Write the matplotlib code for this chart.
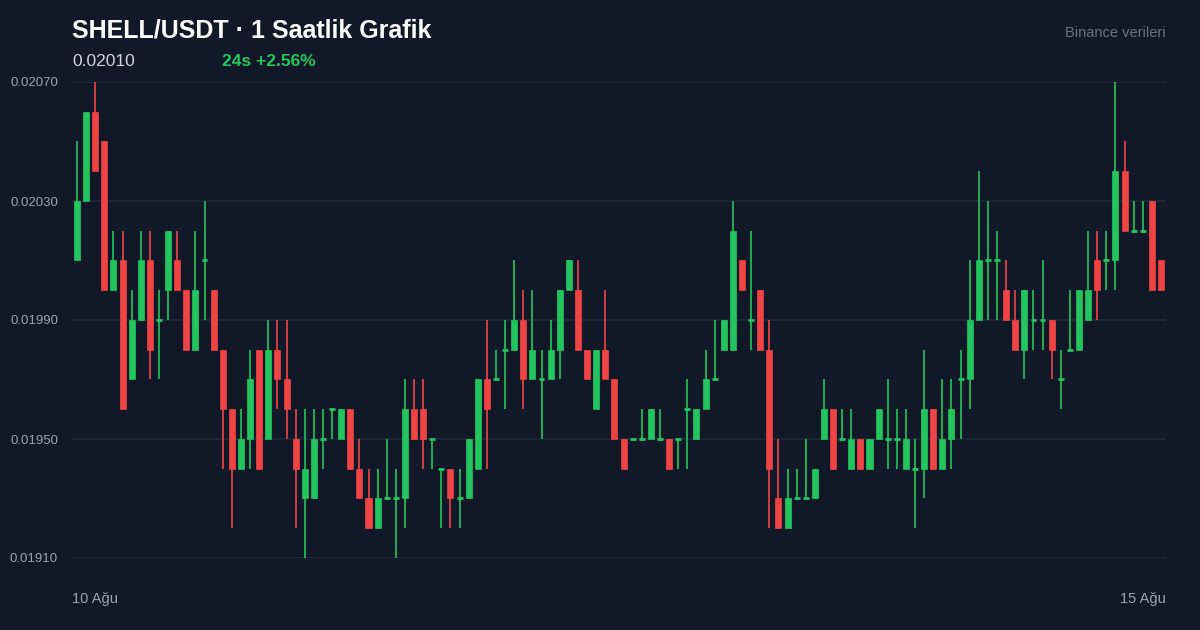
import matplotlib
matplotlib.use("Agg")
import matplotlib.pyplot as plt

plt.rcParams['font.family'] = ['Liberation Sans', 'DejaVu Sans']

# prices in units of 1e-5 USDT, 10 candles per row
opens  = [2010,2030,2060,2050,2000,2010,1970,1990,2010,1990,
          2000,2010,2000,1980,2010,2000,1980,1960,1940,1950,
          1980,1950,1980,1970,1950,1930,1930,1950,1960,1950,
          1960,1940,1930,1920,1930,1930,1930,1960,1960,1950,
          1940,1940,1930,1930,1940,1970,1970,1980,1980,1990,
          1970,1970,1970,1980,2000,2000,1980,1960,1980,1970,
          1950,1950,1950,1950,1950,1950,1950,1960,1950,1960,
          1970,1980,1980,2010,1990,2000,1980,1930,1920,1930,
          1930,1930,1950,1960,1950,1940,1950,1940,1950,1950,
          1950,1940,1940,1940,1960,1940,1950,1970,1970,1990,
          2010,2010,2000,1990,1980,1990,1990,1990,1970,1980,
          1980,1990,2010,2010,2010,2040,2020,2020,2030,2010]
highs  = [2050,2060,2070,2050,2020,2020,2000,2020,2020,2000,
          2020,2020,2000,2020,2030,2000,1980,1960,1960,1980,
          1980,1990,1990,1990,1960,1960,1960,1960,1960,1960,
          1960,1950,1940,1940,1950,1940,1970,1970,1970,1950,
          1940,1940,1940,1950,1970,1990,1980,1990,2010,2000,
          2000,1980,1990,2000,2010,2010,1980,1980,2000,1970,
          1950,1950,1960,1960,1960,1950,1950,1970,1960,1980,
          1990,1990,2030,2010,2020,2000,1990,1950,1940,1940,
          1950,1940,1970,1960,1960,1960,1950,1950,1960,1970,
          1960,1960,1950,1980,1960,1970,1970,1980,2010,2040,
          2030,2020,2010,2000,2000,2000,2010,1990,1980,2000,
          2000,2020,2020,2020,2070,2050,2030,2030,2030,2010]
lows   = [2010,2030,2040,2000,2000,1960,1970,1990,1970,1970,
          1990,2000,1980,1980,1990,1980,1940,1920,1940,1940,
          1940,1950,1960,1950,1920,1910,1930,1940,1950,1950,
          1940,1930,1920,1920,1930,1910,1920,1950,1940,1940,
          1920,1920,1920,1930,1940,1940,1970,1960,1980,1960,
          1970,1950,1970,1970,2000,1980,1970,1960,1970,1950,
          1940,1950,1950,1950,1950,1940,1940,1940,1950,1960,
          1970,1980,1980,2000,1980,1980,1920,1920,1920,1930,
          1930,1930,1950,1940,1950,1940,1940,1940,1950,1940,
          1940,1940,1920,1930,1940,1940,1940,1950,1960,1990,
          1990,1990,1990,1980,1970,1980,1980,1970,1960,1980,
          1980,1990,1990,2000,2000,2020,2020,2020,2000,2000]
closes = [2030,2060,2040,2000,2010,1960,1990,2010,1980,1990,
          2020,2000,1980,2000,2010,1980,1960,1940,1950,1970,
          1940,1980,1970,1960,1940,1940,1950,1950,1960,1960,
          1940,1930,1920,1930,1930,1930,1960,1950,1950,1950,
          1940,1930,1930,1950,1970,1960,1970,1980,1990,1970,
          1980,1970,1980,2000,2010,1980,1970,1980,1970,1950,
          1940,1950,1950,1960,1950,1940,1950,1960,1960,1970,
          1970,1990,2020,2000,1990,1980,1940,1920,1930,1930,
          1930,1940,1960,1940,1950,1950,1940,1950,1960,1950,
          1950,1950,1940,1960,1940,1950,1960,1970,1990,2010,
          2010,2010,1990,1980,2000,1990,1990,1980,1970,1980,
          2000,2000,2000,2010,2040,2020,2020,2020,2000,2000]

y_ticks = [0.01910, 0.01950, 0.01990, 0.02030, 0.02070]
x_labels = ["10 Ağu", "15 Ağu"]
title = "SHELL/USDT · 1 Saatlik Grafik"
last_price = "0.02010"
change_text = "24s +2.56%"
source = "Binance verileri"

BG = "#111827"; GRID = "#1f2a37"; UP = "#22c55e"; DOWN = "#ef4444"; MUTED = "#9ca3af"
S = 1e-5

fig = plt.figure(figsize=(12, 6.3), dpi=100, facecolor=BG)
ax = fig.add_axes([72/1200, 72/630, 1094/1200, 476/630])
ax.set_facecolor(BG)
n = len(opens)
for i in range(n):
    o, h, l, c = opens[i]*S, highs[i]*S, lows[i]*S, closes[i]*S
    col = UP if closes[i] >= opens[i] else DOWN
    ax.vlines(i, l, h, color=col, linewidth=1.2, zorder=2)
    if closes[i] == opens[i]:
        ax.hlines(o, i-0.32, i+0.32, color=col, linewidth=2, zorder=3)
    else:
        ax.bar(i, c-o, bottom=o, width=0.66, color=col, edgecolor=col, linewidth=0.5, zorder=3)

ax.set_xlim(-0.55, n-0.45)
ax.set_ylim(0.01910, 0.02070)
ax.set_yticks(y_ticks)
ax.set_yticklabels([f"{v:.5f}" for v in y_ticks])
ax.tick_params(axis="y", colors=MUTED, labelsize=9.5, length=0, pad=10)
ax.set_xticks([])
ax.grid(axis="y", color=GRID, linewidth=1.2, zorder=0)
for sp in ax.spines.values():
    sp.set_visible(False)

fig.text(72/1200, 1-30/630, title, color="white", fontsize=18, fontweight="bold", va="center", ha="left")
fig.text(72/1200, 1-61/630, last_price, color="#d1d5db", fontsize=12.5, va="center", ha="left")
fig.text(222/1200, 1-61/630, change_text, color=UP, fontsize=12.5, fontweight="bold", va="center", ha="left")
fig.text(1166/1200, 1-33/630, source, color="#6b7280", fontsize=10.5, va="center", ha="right")
fig.text(72/1200, 1-599/630, x_labels[0], color=MUTED, fontsize=10.5, va="center", ha="left")
fig.text(1166/1200, 1-599/630, x_labels[1], color=MUTED, fontsize=10.5, va="center", ha="right")

fig.savefig("out.png", dpi=100, facecolor=BG)
